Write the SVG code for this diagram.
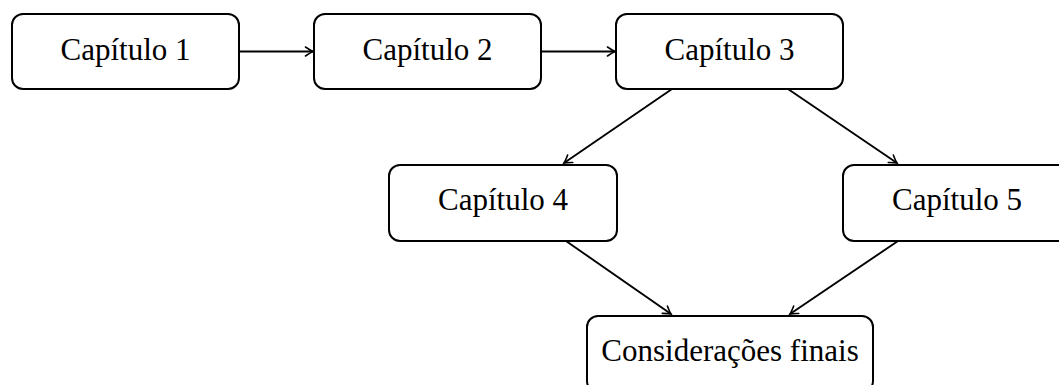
<svg xmlns="http://www.w3.org/2000/svg" width="1059" height="385" viewBox="0 0 1059 385">
<style>
.box{fill:#fff;stroke:#000;stroke-width:2}
.lbl{font-family:"Liberation Serif","Times New Roman",serif;font-size:31px;fill:#000;text-anchor:middle}
.edge{stroke:#000;stroke-width:1.9;fill:none;marker-end:url(#arr)}
</style>
<defs>
<marker id="arr" viewBox="-9 -6 11 12" refX="0" refY="0" markerWidth="11" markerHeight="12" markerUnits="userSpaceOnUse" orient="auto">
<path d="M-7.5,-4.5 Q-2.5,-1 0,0 Q-2.5,1 -7.5,4.5" fill="none" stroke="#000" stroke-width="1.6" stroke-linecap="round"/>
</marker>
</defs>
<rect width="1059" height="385" fill="#fff"/>
<g id="connectors">
<line class="edge" x1="239" y1="51.5" x2="313" y2="51.5"/>
<line class="edge" x1="541" y1="51.5" x2="615" y2="51.5"/>
<line class="edge" x1="672" y1="89" x2="564" y2="163"/>
<line class="edge" x1="788" y1="89" x2="897" y2="163"/>
<line class="edge" x1="566" y1="241" x2="671" y2="314"/>
<line class="edge" x1="898" y1="241" x2="790" y2="314"/>
</g>
<g id="n1"><rect class="box" x="12" y="14" width="227" height="75" rx="11"/><text class="lbl" x="125.5" y="60">Capítulo 1</text></g>
<g id="n2"><rect class="box" x="314" y="14" width="227" height="75" rx="11"/><text class="lbl" x="427.5" y="60">Capítulo 2</text></g>
<g id="n3"><rect class="box" x="616" y="14" width="227" height="75" rx="11"/><text class="lbl" x="729.5" y="60">Capítulo 3</text></g>
<g id="n4"><rect class="box" x="389" y="165" width="228" height="76" rx="11"/><text class="lbl" x="503" y="210">Capítulo 4</text></g>
<g id="n5"><rect class="box" x="843" y="165" width="228" height="76" rx="11"/><text class="lbl" x="957" y="210">Capítulo 5</text></g>
<g id="n6"><rect class="box" x="587" y="316" width="286" height="76" rx="11"/><text class="lbl" x="730" y="361">Considerações finais</text></g>
</svg>
